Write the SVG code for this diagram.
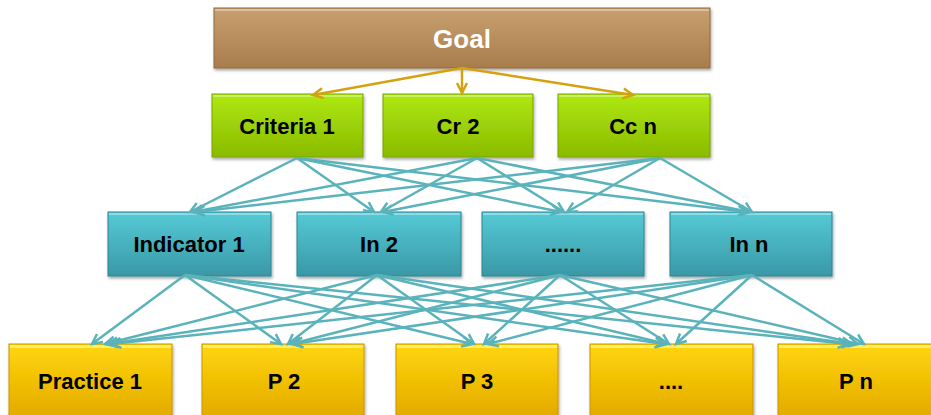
<svg xmlns="http://www.w3.org/2000/svg" width="931" height="415" viewBox="0 0 931 415">
<style>
  .lbl { font-family: "Liberation Sans", Arial, sans-serif; font-weight: bold; font-size: 22px; fill: #000; text-anchor: middle; dominant-baseline: central; }
  .goal-lbl { font-size: 26px; fill: #fff; }
  .box { filter: url(#shadow); }
  .hl { fill: #fff; opacity: 0.35; }
  .gold { stroke: #d4a20f; stroke-width: 2.5; fill: none; marker-end: url(#arrGold); }
  .cyan { stroke: #5ab3bb; stroke-width: 2.5; fill: none; marker-end: url(#arrCyan); }
</style>
<defs>
  <filter id="shadow" x="-5%" y="-10%" width="110%" height="130%">
    <feDropShadow dx="1" dy="2" stdDeviation="1.5" flood-color="#000" flood-opacity="0.35"/>
  </filter>
  <linearGradient id="gBrown" x1="0" y1="0" x2="0" y2="1">
    <stop offset="0" stop-color="#c8a06f"/>
    <stop offset="1" stop-color="#a87d4c"/>
  </linearGradient>
  <linearGradient id="gGreen" x1="0" y1="0" x2="0" y2="1">
    <stop offset="0" stop-color="#aee810"/>
    <stop offset="1" stop-color="#8abb00"/>
  </linearGradient>
  <linearGradient id="gCyan" x1="0" y1="0" x2="0" y2="1">
    <stop offset="0" stop-color="#55cad6"/>
    <stop offset="1" stop-color="#3a98a6"/>
  </linearGradient>
  <linearGradient id="gYellow" x1="0" y1="0" x2="0" y2="1">
    <stop offset="0" stop-color="#ffd60a"/>
    <stop offset="1" stop-color="#e2a800"/>
  </linearGradient>
  <marker id="arrGold" markerUnits="userSpaceOnUse" markerWidth="14" markerHeight="14" refX="11" refY="6" orient="auto" overflow="visible">
    <path d="M1,1 L11,6 L1,11" fill="none" stroke="#d4a20f" stroke-width="2.5"/>
  </marker>
  <marker id="arrCyan" markerUnits="userSpaceOnUse" markerWidth="14" markerHeight="14" refX="11" refY="6" orient="auto" overflow="visible">
    <path d="M1,1 L11,6 L1,11" fill="none" stroke="#5ab3bb" stroke-width="2.5"/>
  </marker>
</defs>

<rect width="931" height="415" fill="#fff"/>

<g id="goal">
  <rect class="box" x="214" y="8" width="496" height="60" fill="url(#gBrown)" stroke="#8f6a3e" stroke-width="1"/>
  <rect class="hl" x="215" y="9" width="494" height="2"/>
  <text class="lbl goal-lbl" x="462" y="39">Goal</text>
</g>

<g id="criteria1">
  <rect class="box" x="212" y="94" width="151" height="63" fill="url(#gGreen)" stroke="#7aa300" stroke-width="1"/>
  <rect class="hl" x="213" y="95" width="149" height="2"/>
  <text class="lbl" x="287" y="126">Criteria 1</text>
</g>
<g id="cr2">
  <rect class="box" x="383" y="94" width="150" height="63" fill="url(#gGreen)" stroke="#7aa300" stroke-width="1"/>
  <rect class="hl" x="384" y="95" width="148" height="2"/>
  <text class="lbl" x="458" y="126">Cr 2</text>
</g>
<g id="ccn">
  <rect class="box" x="558" y="94" width="152" height="63" fill="url(#gGreen)" stroke="#7aa300" stroke-width="1"/>
  <rect class="hl" x="559" y="95" width="150" height="2"/>
  <text class="lbl" x="633" y="126">Cc n</text>
</g>

<g id="indicator1">
  <rect class="box" x="108" y="212" width="163" height="64" fill="url(#gCyan)" stroke="#2f8391" stroke-width="1"/>
  <rect class="hl" x="109" y="213" width="161" height="2"/>
  <text class="lbl" x="189" y="244">Indicator 1</text>
</g>
<g id="in2">
  <rect class="box" x="297" y="212" width="164" height="64" fill="url(#gCyan)" stroke="#2f8391" stroke-width="1"/>
  <rect class="hl" x="298" y="213" width="162" height="2"/>
  <text class="lbl" x="379" y="244">In 2</text>
</g>
<g id="in3">
  <rect class="box" x="482" y="212" width="162" height="64" fill="url(#gCyan)" stroke="#2f8391" stroke-width="1"/>
  <rect class="hl" x="483" y="213" width="160" height="2"/>
  <text class="lbl" x="563" y="244">......</text>
</g>
<g id="inn">
  <rect class="box" x="670" y="212" width="162" height="64" fill="url(#gCyan)" stroke="#2f8391" stroke-width="1"/>
  <rect class="hl" x="671" y="213" width="160" height="2"/>
  <text class="lbl" x="749" y="244">In n</text>
</g>

<g id="practice1">
  <rect class="box" x="9" y="344" width="163" height="76" fill="url(#gYellow)" stroke="#c99500" stroke-width="1"/>
  <rect x="10" y="345" width="161" height="3" fill="#fff27a" opacity="0.8"/>
  <text class="lbl" x="90" y="381">Practice 1</text>
</g>
<g id="p2">
  <rect class="box" x="202" y="344" width="162" height="76" fill="url(#gYellow)" stroke="#c99500" stroke-width="1"/>
  <rect x="203" y="345" width="160" height="3" fill="#fff27a" opacity="0.8"/>
  <text class="lbl" x="284" y="381">P 2</text>
</g>
<g id="p3">
  <rect class="box" x="396" y="344" width="162" height="76" fill="url(#gYellow)" stroke="#c99500" stroke-width="1"/>
  <rect x="397" y="345" width="160" height="3" fill="#fff27a" opacity="0.8"/>
  <text class="lbl" x="477" y="381">P 3</text>
</g>
<g id="p4">
  <rect class="box" x="590" y="344" width="163" height="76" fill="url(#gYellow)" stroke="#c99500" stroke-width="1"/>
  <rect x="591" y="345" width="161" height="3" fill="#fff27a" opacity="0.8"/>
  <text class="lbl" x="671" y="381">....</text>
</g>
<g id="pn">
  <rect class="box" x="778" y="344" width="162" height="76" fill="url(#gYellow)" stroke="#c99500" stroke-width="1"/>
  <rect x="779" y="345" width="160" height="3" fill="#fff27a" opacity="0.8"/>
  <text class="lbl" x="856" y="381">P n</text>
</g>

<g id="connectors">
  <line class="gold" x1="462" y1="68" x2="313" y2="95"/>
  <line class="gold" x1="462" y1="68" x2="462" y2="93"/>
  <line class="gold" x1="462" y1="68" x2="633" y2="95"/>

  <line class="cyan" x1="297" y1="158" x2="190" y2="212"/>
  <line class="cyan" x1="297" y1="158" x2="374" y2="212"/>
  <line class="cyan" x1="297" y1="158" x2="561" y2="212"/>
  <line class="cyan" x1="297" y1="158" x2="748" y2="212"/>
  <line class="cyan" x1="477" y1="158" x2="193" y2="212"/>
  <line class="cyan" x1="477" y1="158" x2="381" y2="212"/>
  <line class="cyan" x1="477" y1="158" x2="564" y2="212"/>
  <line class="cyan" x1="477" y1="158" x2="750" y2="212"/>
  <line class="cyan" x1="660" y1="158" x2="195" y2="212"/>
  <line class="cyan" x1="660" y1="158" x2="383" y2="212"/>
  <line class="cyan" x1="660" y1="158" x2="567" y2="212"/>
  <line class="cyan" x1="660" y1="158" x2="752" y2="212"/>

  <line class="cyan" x1="185" y1="275" x2="92" y2="344"/>
  <line class="cyan" x1="185" y1="275" x2="281" y2="344"/>
  <line class="cyan" x1="185" y1="275" x2="472" y2="344"/>
  <line class="cyan" x1="185" y1="275" x2="665" y2="344"/>
  <line class="cyan" x1="185" y1="275" x2="848" y2="344"/>
  <line class="cyan" x1="377" y1="275" x2="105" y2="344"/>
  <line class="cyan" x1="377" y1="275" x2="288" y2="344"/>
  <line class="cyan" x1="377" y1="275" x2="474" y2="344"/>
  <line class="cyan" x1="377" y1="275" x2="667" y2="344"/>
  <line class="cyan" x1="377" y1="275" x2="852" y2="344"/>
  <line class="cyan" x1="560" y1="275" x2="108" y2="344"/>
  <line class="cyan" x1="560" y1="275" x2="291" y2="344"/>
  <line class="cyan" x1="560" y1="275" x2="484" y2="344"/>
  <line class="cyan" x1="560" y1="275" x2="669" y2="344"/>
  <line class="cyan" x1="560" y1="275" x2="858" y2="344"/>
  <line class="cyan" x1="752" y1="275" x2="111" y2="344"/>
  <line class="cyan" x1="752" y1="275" x2="293" y2="344"/>
  <line class="cyan" x1="752" y1="275" x2="488" y2="344"/>
  <line class="cyan" x1="752" y1="275" x2="676" y2="344"/>
  <line class="cyan" x1="752" y1="275" x2="864" y2="344"/>
</g>
</svg>
